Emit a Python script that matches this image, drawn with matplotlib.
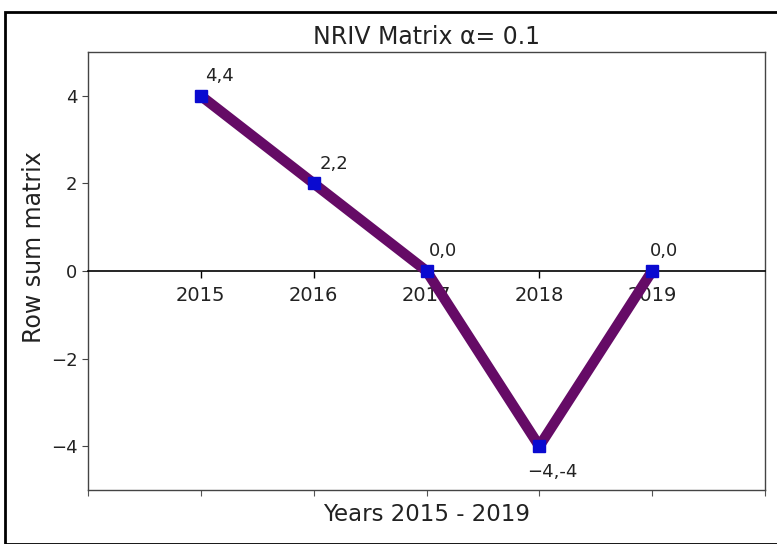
import matplotlib
matplotlib.use("Agg")
import matplotlib.pyplot as plt
from matplotlib.patches import Rectangle

years = [2015, 2016, 2017, 2018, 2019]
values = [4, 2, 0, -4, 0]
point_labels = ["4,4", "2,2", "0,0", "\u22124,-4", "0,0"]
label_offsets = [(3, 10.5), (4, 10.5), (2, 10.5), (-9, -22), (-2, 10.5)]
yticks = [-4, -2, 0, 2, 4]

W, H = 777, 544
fig = plt.figure(figsize=(W / 100, H / 100), dpi=100)
fig.patches.append(Rectangle((5 / W, 0.0), 1.0, 1 - 12 / H, transform=fig.transFigure,
                             fill=False, edgecolor="black", linewidth=2.0))

left, right, top, bottom = 88 / W, 765 / W, 1 - 52 / H, 1 - 490 / H
ax = fig.add_axes([left, bottom, right - left, top - bottom])

ax.plot(years, values, color="#650b66", linewidth=7.5, solid_capstyle="butt", zorder=3)
ax.plot(years, values, linestyle="none", marker="s", markersize=9,
        color="#0a0ad0", zorder=4)

for x, y, lab, off in zip(years, values, point_labels, label_offsets):
    ax.annotate(lab, (x, y), xytext=off, textcoords="offset points",
                fontsize=13, color="#222222", ha="left", va="baseline")

ax.set_xlim(2014, 2020)
ax.set_ylim(-5, 5)
ax.set_yticks(yticks)
ax.set_yticklabels([str(v).replace("-", "\u2212") for v in yticks])

# main x axis drawn at y = 0 with year labels
ax.spines["bottom"].set_position(("data", 0))
ax.spines["bottom"].set_color("black")
ax.spines["bottom"].set_linewidth(1.2)
ax.set_xticks(years)
ax.set_xticklabels([str(y) for y in years])
ax.tick_params(axis="x", labelsize=14, length=5, width=1, labelcolor="#222222", pad=6)
ax.tick_params(axis="y", labelsize=13, length=4, colors="#444444", labelcolor="#222222")
for k in ["left", "right", "top"]:
    ax.spines[k].set_color("#444444")
    ax.spines[k].set_linewidth(1.0)

# outer frame bottom with unlabeled ticks
sec = ax.secondary_xaxis("bottom")
sec.set_xticks(range(2014, 2021))
sec.set_xticklabels([])
sec.tick_params(axis="x", colors="#555555", length=4)
sec.spines["bottom"].set_color("#444444")
sec.spines["bottom"].set_linewidth(1.0)
sec.set_xlabel("Years 2015 - 2019", fontsize=16.5, color="#222222", labelpad=2)

ax.set_title("NRIV Matrix \u03b1= 0.1", fontsize=17, color="#222222", pad=6)
ax.set_ylabel("Row sum matrix", fontsize=17, color="#222222")
ax.yaxis.set_label_coords(-0.062, 0.555)

fig.savefig("out.png", dpi=100)
